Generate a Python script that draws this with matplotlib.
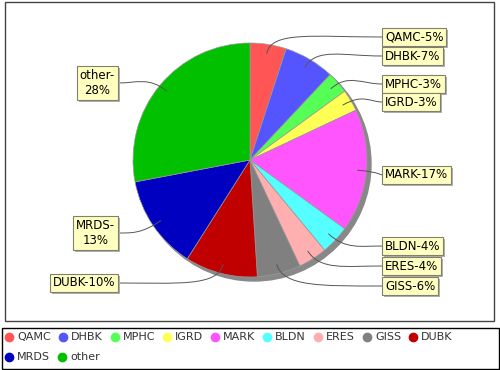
import numpy as np
import matplotlib.pyplot as plt
from matplotlib.patches import Circle, Rectangle, PathPatch
from matplotlib.path import Path
import matplotlib.patheffects as pe

names = ['QAMC', 'DHBK', 'MPHC', 'IGRD', 'MARK', 'BLDN', 'ERES', 'GISS', 'DUBK', 'MRDS', 'other']
shares = [5, 7, 3, 3, 17, 4, 4, 6, 10, 13, 28]
colors = ['#FF5555', '#5555FF', '#55FF55', '#FFFF55', '#FF55FF', '#55FFFF',
          '#FFAFAF', '#808080', '#C00000', '#0000C0', '#00C000']

# layout: label box centres (pixels from top), labels that wrap on two lines
label_y = [37, 56, 84, 102, 175, 246, 266, 286, 283, 233, 83]
wrapped = ['MRDS', 'other']

W, H = 500, 370
fig = plt.figure(figsize=(5, 3.7), dpi=100)
ax = fig.add_axes([0, 0, 1, 1])
cx, cy, r = 250, H - 160, 117

# plot frame + pie shadow
ax.add_patch(Rectangle((5, H - 321), 489, 319, fill=False, edgecolor='#444444', lw=1))
ax.add_patch(Circle((cx + 4, cy - 4), r, color='#888888', zorder=1))

wedges, _ = ax.pie(shares, colors=colors, startangle=90, counterclock=False,
                   center=(cx, cy), radius=r, frame=True,
                   wedgeprops=dict(edgecolor='#9a9a9a', linewidth=0.5, zorder=2))

total = float(sum(shares))
cum = 0.0
for name, val, ly in zip(names, shares, label_y):
    mid = np.deg2rad(90 - 360 * (cum + val / 2) / total)
    cum += val
    pct = '%d%%' % round(100 * val / total)
    txt = name + '-\n' + pct if name in wrapped else name + '-' + pct
    right = np.cos(mid) > 0
    ty = H - ly
    tx = 382 if right else 118
    p0 = (cx + 0.92 * r * np.cos(mid), cy + 0.92 * r * np.sin(mid))
    p1 = (cx + 1.12 * r * np.cos(mid), cy + 1.12 * r * np.sin(mid))
    p2 = (p1[0] + 0.4 * (tx - p1[0]), ty)
    path = Path([p0, p1, p2, (tx, ty)], [Path.MOVETO, Path.CURVE4, Path.CURVE4, Path.CURVE4])
    ax.add_patch(PathPatch(path, fill=False, edgecolor='#555555', lw=0.7, zorder=3))
    t = ax.text(tx + 3 if right else tx - 3, ty, txt, fontsize=8.5, ha='left' if right else 'right',
                va='center', multialignment='center', zorder=5,
                bbox=dict(boxstyle='square,pad=0.22', fc='#FFFFC0', ec='#808070', lw=0.8))
    t.get_bbox_patch().set_path_effects([pe.SimplePatchShadow(offset=(1.5, -1.5), shadow_rgbFace='#b0b0b0', alpha=1),
                                         pe.Normal()])

# legend
ax.add_patch(Rectangle((1.5, H - 369), 497, 41.5, fill=False, edgecolor='black', lw=1))
renderer = fig.canvas.get_renderer()
x, row_y = 9, H - 337
for name, c in zip(names, colors):
    t = ax.text(x + 8, row_y, name, fontsize=8, color='#333333', va='center', ha='left')
    w = t.get_window_extent(renderer).width
    if x + 8 + w > 494:
        x, row_y = 9, row_y - 20
        t.set_position((x + 8, row_y))
    ax.plot(x, row_y, 'o', ms=6, color=c, mec=c)
    x = x + 8 + w + 12

ax.set_xlim(0, W)
ax.set_ylim(0, H)
ax.set_axis_off()
fig.savefig('out.png', dpi=100)
